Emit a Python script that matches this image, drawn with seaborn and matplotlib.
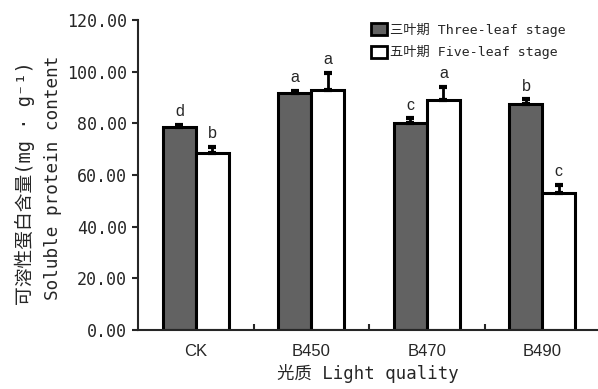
import numpy as np
import pandas as pd
import matplotlib
matplotlib.use("Agg")
import matplotlib.pyplot as plt
import matplotlib.ticker as mticker
from matplotlib.patches import Patch
import seaborn as sns

# ── Data ───────────────────────────────────────────────────────────────────────
categories    = ["CK", "B450", "B470", "B490"]
three_leaf    = [78.6, 91.8, 80.3, 87.6]
five_leaf     = [68.5, 93.0, 89.2, 53.0]
three_err     = [0.9, 0.8, 1.6, 1.7]
five_err      = [2.4, 6.4, 5.0, 3.1]
three_letters = ["d", "a", "c", "b"]
five_letters  = ["b", "a", "a", "c"]
series_names  = ["三叶期 Three-leaf stage", "五叶期 Five-leaf stage"]
yticks        = [0, 20, 40, 60, 80, 100, 120]

DARK_BAR = "#626262"
MONO_CJK = ["DejaVu Sans Mono", "Noto Sans CJK SC", "DejaVu Sans"]

sns.set_style("ticks")
plt.rcParams["font.family"] = MONO_CJK

df = pd.DataFrame({
    "cat":   categories * 2,
    "val":   three_leaf + five_leaf,
    "err":   three_err + five_err,
    "lab":   three_letters + five_letters,
    "stage": [series_names[0]] * 4 + [series_names[1]] * 4,
})

fig = plt.figure(figsize=(5.98, 3.89), dpi=100)
ax = fig.add_axes([0.231, 0.1517, 0.7726, 0.797])

sns.barplot(data=df, x="cat", y="val", hue="stage", order=categories,
            hue_order=series_names, palette=[DARK_BAR, "white"],
            width=0.57, gap=0, errorbar=None, edgecolor="black",
            linewidth=2.2, legend=False, ax=ax)

# error bars (upper only) and significance letters
for i, stage in enumerate(series_names):
    sub = df[df["stage"] == stage].set_index("cat").loc[categories]
    bars = ax.containers[i]
    xs = [b.get_x() + b.get_width() / 2 for b in bars]
    ax.errorbar(xs, sub["val"], yerr=[np.zeros(len(xs)), sub["err"]],
                fmt="none", ecolor="black", elinewidth=2, capsize=3,
                capthick=3, zorder=5)
    for x, v, e, t in zip(xs, sub["val"], sub["err"], sub["lab"]):
        ax.text(x, v + e + 2.2, t, ha="center", va="bottom", fontsize=11.5,
                family="Liberation Sans")

ax.set_xlim(-0.5, 3.5)
ax.set_ylim(0, 120)
ax.set_yticks(yticks)
ax.yaxis.set_major_formatter(mticker.FormatStrFormatter("%.2f"))
ax.tick_params(axis="y", direction="out", length=4, width=1.5, labelsize=12,
               pad=4)
ax.set_xticks(range(len(categories)))
ax.set_xticklabels(categories, family="Liberation Sans", fontsize=12)
ax.tick_params(axis="x", which="major", length=0, pad=10)
ax.xaxis.set_minor_locator(mticker.FixedLocator([0.5, 1.5, 2.5]))
ax.tick_params(axis="x", which="minor", direction="in", length=4, width=1.5)
for s in ("top", "right"):
    ax.spines[s].set_visible(False)
for s in ("left", "bottom"):
    ax.spines[s].set_linewidth(1.5)
ax.set_xlabel("")
ax.set_ylabel("")

# axis titles
fig.text(0.042, 0.53, "可溶性蛋白含量(mg · g⁻¹)", rotation=90,
         ha="center", va="center", fontsize=13.5)
fig.text(0.089, 0.542, "Soluble protein content", rotation=90,
         ha="center", va="center", fontsize=12.7)
fig.text(0.615, 0.04, "光质 Light quality", ha="center", va="center",
         fontsize=12.5)

handles = [Patch(facecolor=DARK_BAR, edgecolor="black", linewidth=2),
           Patch(facecolor="white", edgecolor="black", linewidth=2)]
fig.legend(handles, series_names, loc="upper left",
           bbox_to_anchor=(0.612, 0.955), frameon=False, fontsize=9.5,
           handlelength=1.2, handleheight=1.0, handletextpad=0.25,
           labelspacing=0.65, borderaxespad=0)

fig.savefig("out.png", dpi=100)
